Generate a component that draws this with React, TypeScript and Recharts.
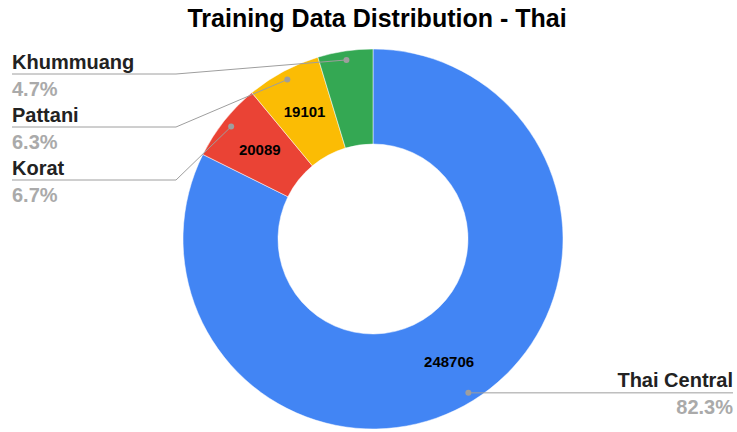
import React from "react";
import { PieChart, Pie, Cell } from "recharts";

const dialects = ["Thai Central", "Korat", "Pattani", "Khummuang"];
const sampleCounts = [248706, 20089, 19101, 14150];
const sliceColors = ["#4285F4", "#EA4335", "#FBBC04", "#34A853"];

const data = dialects.map((name, i) => ({ name, value: sampleCounts[i] }));

const FONT = "'Liberation Sans', Arial, sans-serif";
const RAD = Math.PI / 180;
const W = 737;
const H = 432;

function renderLabel(props: any) {
  const { cx, cy, midAngle, innerRadius, outerRadius, percent, index, value, name } = props;
  const cos = Math.cos(-midAngle * RAD);
  const sin = Math.sin(-midAngle * RAD);

  const rIn = (innerRadius + outerRadius) / 2 + 2;
  const ix = cx + rIn * cos;
  const iy = cy + rIn * sin;

  const rDot = outerRadius - 9;
  const dx = cx + rDot * cos;
  const dy = cy + rDot * sin;
  const pct = (percent * 100).toFixed(1) + "%";

  const inner =
    percent > 0.05 ? (
      <text x={ix} y={iy} textAnchor="middle" dominantBaseline="central" fontSize={15} fontWeight="bold" fill="#000" fontFamily={FONT}>
        {value}
      </text>
    ) : null;

  if (dx >= cx) {
    const endX = W - 4;
    return (
      <g key={`lbl-${index}`}>
        {inner}
        <polyline points={`${dx},${dy} ${endX},${dy}`} stroke="#9e9e9e" strokeWidth={1} fill="none" />
        <circle cx={dx} cy={dy} r={3} fill="#9e9e9e" />
        <text x={endX} y={dy - 6} textAnchor="end" fontSize={20} fontWeight="bold" fill="#222" fontFamily={FONT}>
          {name}
        </text>
        <text x={endX} y={dy + 21} textAnchor="end" fontSize={20} fontWeight="bold" fill="#aaaaaa" fontFamily={FONT}>
          {pct}
        </text>
      </g>
    );
  }

  // left-side labels stacked from the top
  const rank = data.length - 1 - index;
  const ly = 74 + 53 * rank;
  const elbowX = 176;
  const startX = 12;
  return (
    <g key={`lbl-${index}`}>
      {inner}
      <polyline points={`${dx},${dy} ${elbowX},${ly} ${startX},${ly}`} stroke="#9e9e9e" strokeWidth={1} fill="none" />
      <circle cx={dx} cy={dy} r={3} fill="#9e9e9e" />
      <text x={startX} y={ly - 5} textAnchor="start" fontSize={20} fontWeight="bold" fill="#222" fontFamily={FONT}>
        {name}
      </text>
      <text x={startX} y={ly + 22} textAnchor="start" fontSize={20} fontWeight="bold" fill="#aaaaaa" fontFamily={FONT}>
        {pct}
      </text>
    </g>
  );
}

export default function App() {
  return (
    <div style={{ position: "absolute", left: 0, top: 0, width: W, height: H, background: "#fff", overflow: "hidden" }}>
      <svg width={W} height={40} style={{ position: "absolute", left: 0, top: 0 }}>
        <text x={377} y={27} textAnchor="middle" fontSize={25} fontWeight="bold" fill="#000" fontFamily={FONT}>
          Training Data Distribution - Thai
        </text>
      </svg>
      <div style={{ position: "absolute", left: 0, top: 0 }}>
        <PieChart width={W} height={H} margin={{ top: 0, right: 0, bottom: 0, left: 0 }}>
          <Pie
            data={data}
            dataKey="value"
            nameKey="name"
            cx={373}
            cy={239}
            innerRadius={95}
            outerRadius={190}
            startAngle={90}
            endAngle={-270}
            stroke="#fff"
            strokeWidth={0.5}
            label={renderLabel}
            labelLine={false}
            isAnimationActive={false}
          >
            {data.map((d, i) => (
              <Cell key={d.name} fill={sliceColors[i]} />
            ))}
          </Pie>
        </PieChart>
      </div>
    </div>
  );
}
